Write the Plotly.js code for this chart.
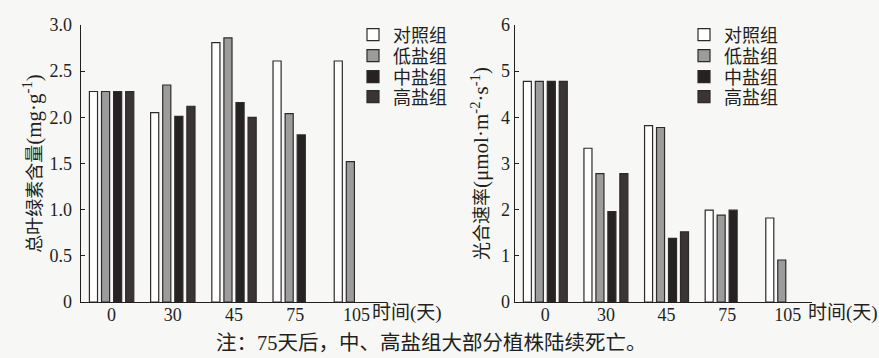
<!DOCTYPE html>
<html>
<head>
<meta charset="utf-8">
<script src="https://cdn.plot.ly/plotly-3.0.1.min.js"></script>
<style>html,body{margin:0;padding:0;background:#f7f7f5;}#chart{width:879px;height:358px;}</style>
</head>
<body>
<div id="chart"></div>
<script>
// ---- data ----
const categories = ['0', '30', '45', '75', '105'];
const seriesNames = ['对照组', '低盐组', '中盐组', '高盐组'];

// 总叶绿素含量 (mg·g-1)
const chlControl = [2.28, 2.05, 2.81, 2.61, 2.61];
const chlLow     = [2.28, 2.35, 2.86, 2.04, 1.52];
const chlMid     = [2.28, 2.01, 2.16, 1.81, null];
const chlHigh    = [2.28, 2.12, 2.00, null, null];

// 光合速率 (μmol·m-2·s-1)
const psControl = [4.78, 3.33, 3.82, 1.99, 1.82];
const psLow     = [4.78, 2.78, 3.78, 1.88, 0.91];
const psMid     = [4.78, 1.96, 1.38, 1.99, null];
const psHigh    = [4.78, 2.78, 1.52, null, null];

const chlTickVals = [0, 0.5, 1.0, 1.5, 2.0, 2.5, 3.0];
const chlTickText = ['0', '0.5', '1.0', '1.5', '2.0', '2.5', '3.0'];
const psTickVals = [0, 1, 2, 3, 4, 5, 6];
const psTickText = ['0', '1', '2', '3', '4', '5', '6'];

// ---- styles ----
const fills = ['#ffffff', '#9c9c9c', '#262122', '#3a3435'];
const outline = '#2e2a2a';
const serif = '"Liberation Serif", "Noto Sans CJK SC", serif';
const ink = '#231f20';
const W = 879, H = 358;

// legend row centres (px from top) and left edges of the two legend columns
const legendRows = [35, 56, 77, 97];
const legendLeft = [353, 684];

const chlSeries = [chlControl, chlLow, chlMid, chlHigh];
const psSeries = [psControl, psLow, psMid, psHigh];

const traces = [];
const legends = {};
[chlSeries, psSeries].forEach((group, g) => {
  group.forEach((vals, i) => {
    const n = g * 4 + i;
    const key = 'legend' + (n === 0 ? '' : (n + 1));
    traces.push({
      type: 'bar', x: categories, y: vals, name: seriesNames[i],
      xaxis: g === 0 ? 'x' : 'x2', yaxis: g === 0 ? 'y' : 'y2', legend: key,
      showlegend: true,
      marker: {color: fills[i], line: {color: outline, width: 1.2}},
      hoverinfo: 'y'
    });
    legends[key] = {
      x: legendLeft[g] / W, y: 1 - legendRows[i] / H, xanchor: 'left', yanchor: 'middle',
      bgcolor: 'rgba(0,0,0,0)', borderwidth: 0, visible: true,
      font: {family: serif, size: 18, color: ink}, itemclick: false
    };
  });
});

const yDom = [1 - 302 / H, 1 - 25 / H];

const xCommon = {
  type: 'category', showline: true, linecolor: ink, linewidth: 1.3,
  ticks: '', showgrid: false, zeroline: false, fixedrange: true, ticklabelstandoff: -4,
  tickfont: {family: serif, size: 18, color: ink}
};
const yCommon = {
  showline: true, linecolor: ink, linewidth: 1.3, ticks: 'inside', ticklen: 4,
  tickcolor: ink, tickwidth: 1.2, showgrid: false, zeroline: false, fixedrange: true,
  tickfont: {family: serif, size: 18, color: ink}
};

const layout = Object.assign({
  width: W, height: H,
  margin: {l: 0, r: 0, t: 0, b: 0},
  showlegend: true,
  paper_bgcolor: '#f7f7f5', plot_bgcolor: 'rgba(0,0,0,0)',
  barmode: 'group', bargap: 0.21, bargroupgap: 0.33,
  font: {family: serif, color: ink},
  xaxis: Object.assign({}, xCommon, {domain: [81 / W, 387 / W], range: [-0.5, 4.5], anchor: 'y'}),
  yaxis: Object.assign({}, yCommon, {
    domain: yDom, range: [0, 3], anchor: 'x',
    tickvals: chlTickVals, ticktext: chlTickText, ticklabelstandoff: 4,
    title: {text: '总叶绿素含量<span style="font-size:21px">(mg·g<sup>-1</sup>)</span>',
            font: {family: serif, size: 18, color: ink}, standoff: 3}
  }),
  xaxis2: Object.assign({}, xCommon, {domain: [515 / W, 812 / W], range: [-0.5, 4.4], anchor: 'y2'}),
  yaxis2: Object.assign({}, yCommon, {
    domain: yDom, range: [0, 6], anchor: 'x2',
    tickvals: psTickVals, ticktext: psTickText, ticklabelstandoff: 0,
    title: {text: '光合速率<span style="font-size:21px">(μmol·m<sup>-2</sup>·s<sup>-1</sup>)</span>',
            font: {family: serif, size: 18, color: ink}, standoff: 7}
  }),
  annotations: [
    {text: '时间(天)', xref: 'paper', yref: 'paper', x: 370 / W, y: 1 - 313 / H, xanchor: 'left', yanchor: 'middle',
     showarrow: false, font: {family: serif, size: 19, color: ink}},
    {text: '时间(天)', xref: 'paper', yref: 'paper', x: 806 / W, y: 1 - 313 / H, xanchor: 'left', yanchor: 'middle',
     showarrow: false, font: {family: serif, size: 19, color: ink}},
    {text: '注：75天后，中、高盐组大部分植株陆续死亡。', xref: 'paper', yref: 'paper', x: 431 / W, y: 1 - 343 / H,
     xanchor: 'center', yanchor: 'middle', showarrow: false, font: {family: serif, size: 20.5, color: ink}}
  ]
}, legends);

Plotly.newPlot('chart', traces, layout, {displayModeBar: false, staticPlot: true});
</script>
</body>
</html>
